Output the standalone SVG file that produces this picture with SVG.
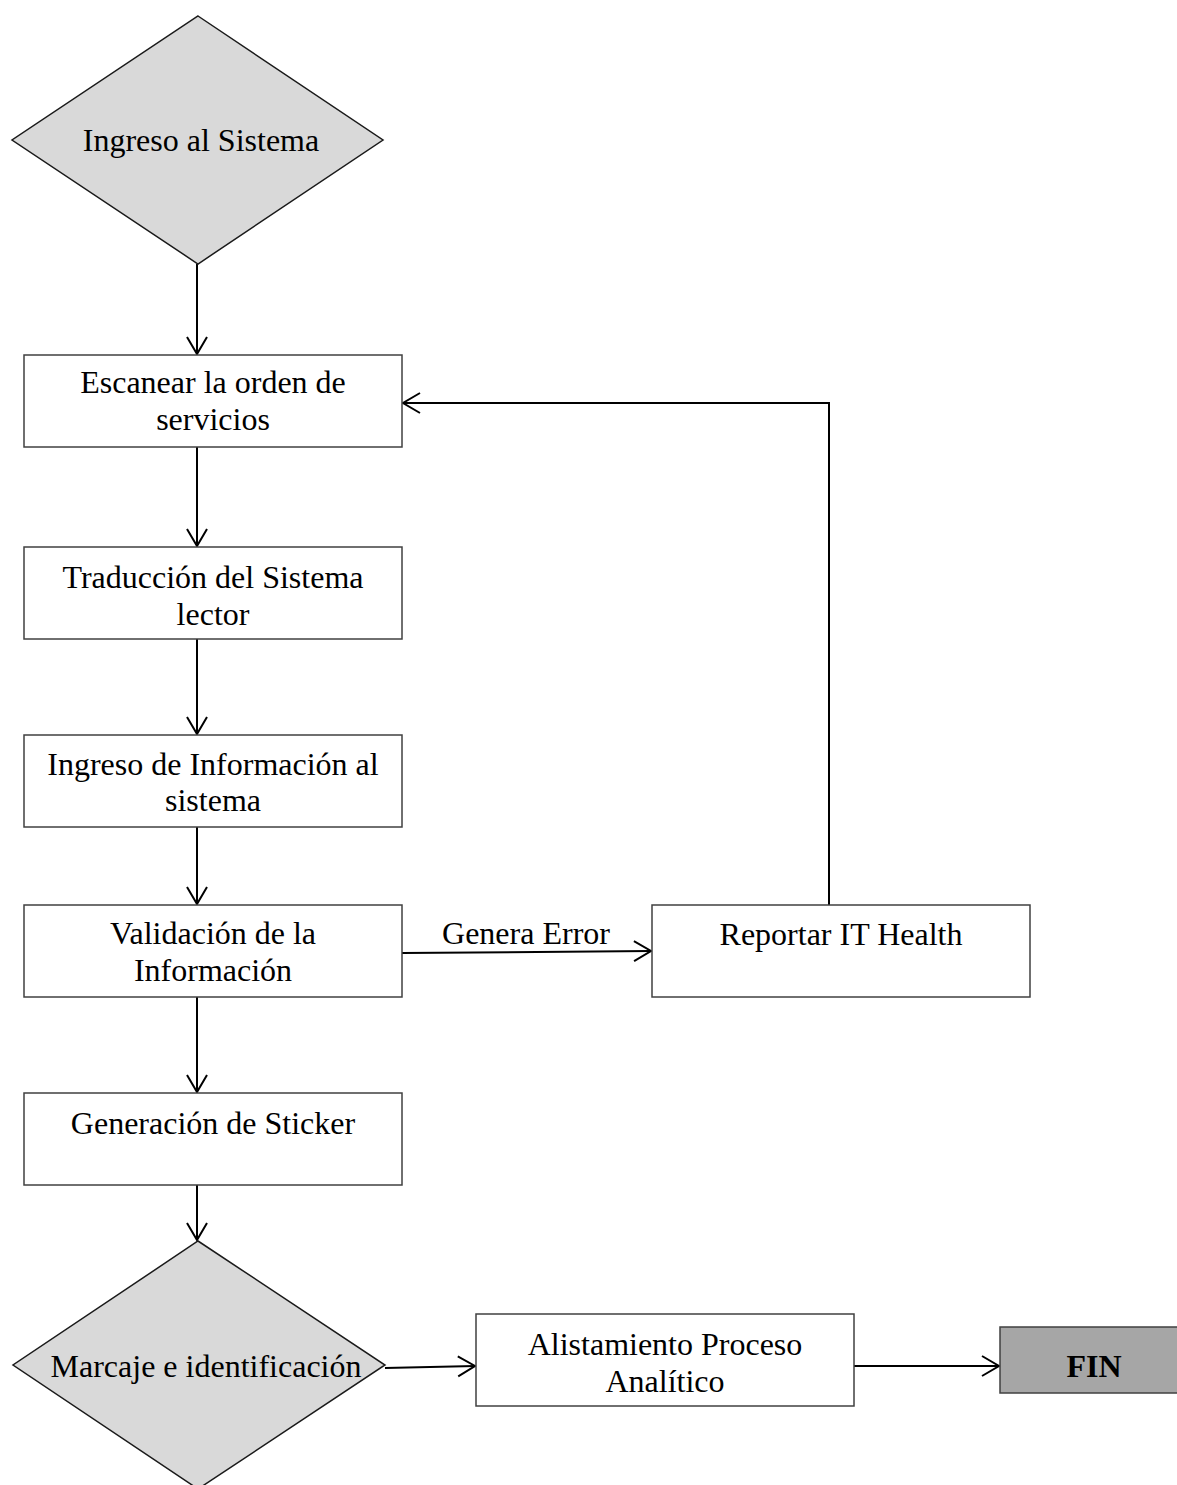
<svg xmlns="http://www.w3.org/2000/svg" width="1177" height="1485" viewBox="0 0 1177 1485">
  <style>
    .box { fill: #ffffff; stroke: #404040; stroke-width: 1.5; }
    .dia { fill: #d9d9d9; stroke: #1a1a1a; stroke-width: 1.5; }
    .end { fill: #a6a6a6; stroke: #404040; stroke-width: 1.5; }
    .lbl { font-family: "Liberation Serif", "Times New Roman", serif; font-size: 32px; fill: #000000; text-anchor: middle; }
    .bold { font-weight: bold; }
    .edge { fill: none; stroke: #000000; stroke-width: 2; }
  </style>
  <defs>
    <marker id="arrow" markerUnits="userSpaceOnUse" markerWidth="24" markerHeight="24" viewBox="-20 -12 22 24" refX="0" refY="0" orient="auto">
      <path d="M-17,-10 L0,0 L-17,10" fill="none" stroke="#000000" stroke-width="2"/>
    </marker>
  </defs>

  <!-- connectors -->
  <g id="connectors">
    <line class="edge" x1="197" y1="264" x2="197" y2="354" marker-end="url(#arrow)"/>
    <line class="edge" x1="197" y1="447" x2="197" y2="546" marker-end="url(#arrow)"/>
    <line class="edge" x1="197" y1="639" x2="197" y2="734" marker-end="url(#arrow)"/>
    <line class="edge" x1="197" y1="827" x2="197" y2="904" marker-end="url(#arrow)"/>
    <line class="edge" x1="197" y1="997" x2="197" y2="1092" marker-end="url(#arrow)"/>
    <line class="edge" x1="197" y1="1185" x2="197" y2="1240" marker-end="url(#arrow)"/>
    <line class="edge" x1="402" y1="953" x2="651" y2="951" marker-end="url(#arrow)"/>
    <text class="lbl" x="526" y="944">Genera Error</text>
    <polyline class="edge" points="829,905 829,403 403,403" marker-end="url(#arrow)"/>
    <line class="edge" x1="385" y1="1368" x2="475" y2="1366" marker-end="url(#arrow)"/>
    <line class="edge" x1="854" y1="1366" x2="999" y2="1366" marker-end="url(#arrow)"/>
  </g>

  <!-- start decision -->
  <g id="ingreso-sistema">
    <polygon class="dia" points="198,16 383,140 198,264 12,140"/>
    <text class="lbl" x="201" y="151">Ingreso al Sistema</text>
  </g>

  <g id="escanear">
    <rect class="box" x="24" y="355" width="378" height="92"/>
    <text class="lbl" x="213" y="393">Escanear la orden de</text>
    <text class="lbl" x="213" y="430">servicios</text>
  </g>

  <g id="traduccion">
    <rect class="box" x="24" y="547" width="378" height="92"/>
    <text class="lbl" x="213" y="588">Traducción del Sistema</text>
    <text class="lbl" x="213" y="625">lector</text>
  </g>

  <g id="ingreso-informacion">
    <rect class="box" x="24" y="735" width="378" height="92"/>
    <text class="lbl" x="213" y="775">Ingreso de Información al</text>
    <text class="lbl" x="213" y="811">sistema</text>
  </g>

  <g id="validacion">
    <rect class="box" x="24" y="905" width="378" height="92"/>
    <text class="lbl" x="213" y="944">Validación de la</text>
    <text class="lbl" x="213" y="981">Información</text>
  </g>

  <g id="reportar">
    <rect class="box" x="652" y="905" width="378" height="92"/>
    <text class="lbl" x="841" y="945">Reportar IT Health</text>
  </g>

  <g id="sticker">
    <rect class="box" x="24" y="1093" width="378" height="92"/>
    <text class="lbl" x="213" y="1134">Generación de Sticker</text>
  </g>

  <!-- marking decision -->
  <g id="marcaje">
    <polygon class="dia" points="198,1241 385,1365 198,1489 13,1365"/>
    <text class="lbl" x="206" y="1377">Marcaje e identificación</text>
  </g>

  <g id="alistamiento">
    <rect class="box" x="476" y="1314" width="378" height="92"/>
    <text class="lbl" x="665" y="1355">Alistamiento Proceso</text>
    <text class="lbl" x="665" y="1392">Analítico</text>
  </g>

  <g id="fin">
    <rect class="end" x="1000" y="1327" width="190" height="66"/>
    <text class="lbl bold" x="1094" y="1377">FIN</text>
  </g>
</svg>
